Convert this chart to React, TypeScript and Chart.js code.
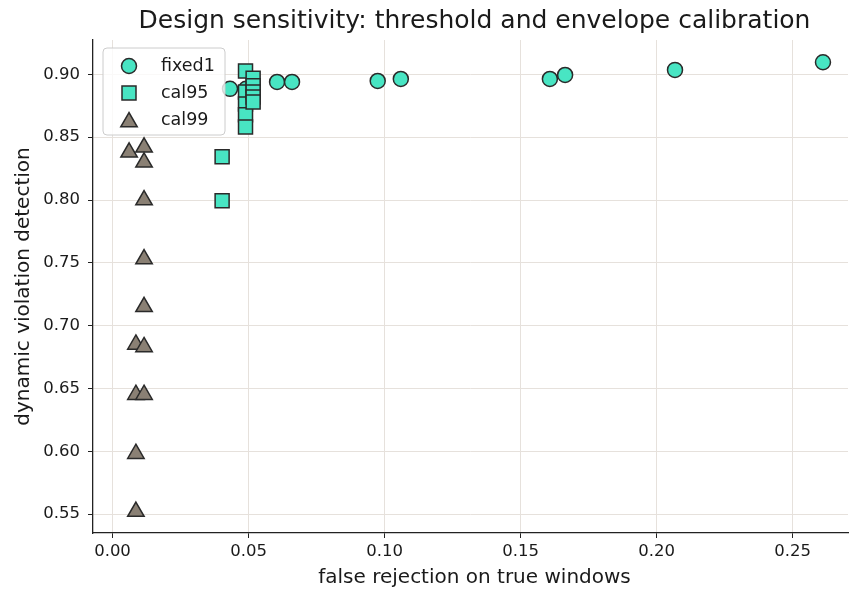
import React, { useEffect, useRef } from "react";
import { Chart, registerables } from "chart.js";

Chart.register(...registerables);

const TITLE = "Design sensitivity: threshold and envelope calibration";
const X_LABEL = "false rejection on true windows";
const Y_LABEL = "dynamic violation detection";

const xTicks = [0.0, 0.05, 0.1, 0.15, 0.2, 0.25];
const yTicks = [0.55, 0.6, 0.65, 0.7, 0.75, 0.8, 0.85, 0.9];

const fixed1X = [0.0432, 0.0491, 0.0605, 0.066, 0.0975, 0.106, 0.1608, 0.1664, 0.2068, 0.2612];
const fixed1Y = [0.8885, 0.8885, 0.894, 0.894, 0.8948, 0.8964, 0.8964, 0.8996, 0.9036, 0.9097];

const cal95X = [0.0403, 0.0403, 0.0489, 0.0489, 0.0489, 0.0489, 0.0489, 0.0517, 0.0517, 0.0517, 0.0517, 0.0517];
const cal95Y = [0.8344, 0.7994, 0.9028, 0.886, 0.8765, 0.8678, 0.8582, 0.897, 0.891, 0.886, 0.882, 0.878];

const cal99X = [0.0061, 0.0116, 0.0116, 0.0116, 0.0116, 0.0116, 0.0086, 0.0116, 0.0086, 0.0116, 0.0086, 0.0086];
const cal99Y = [0.838, 0.842, 0.830, 0.800, 0.753, 0.715, 0.685, 0.683, 0.645, 0.645, 0.598, 0.552];

const seriesNames = ["fixed1", "cal95", "cal99"];

const FONT = "'DejaVu Sans', sans-serif";
const TEAL = "#48e5c3";
const TAUPE = "#8a8074";
const EDGE = "#2a2a2a";

function pts(xs: number[], ys: number[]) {
  return xs.map((x, i) => ({ x, y: ys[i] }));
}

function drawMarker(ctx: CanvasRenderingContext2D, style: string, x: number, y: number, fill: string) {
  ctx.save();
  ctx.beginPath();
  if (style === "circle") {
    ctx.arc(x, y, 7.5, 0, Math.PI * 2);
  } else if (style === "rect") {
    ctx.rect(x - 7, y - 7, 14, 14);
  } else {
    const r = 9.5;
    ctx.moveTo(x, y - r);
    ctx.lineTo(x - r * Math.sin(Math.PI / 3), y + r / 2);
    ctx.lineTo(x + r * Math.sin(Math.PI / 3), y + r / 2);
    ctx.closePath();
  }
  ctx.fillStyle = fill;
  ctx.fill();
  ctx.lineWidth = 1.5;
  ctx.strokeStyle = EDGE;
  ctx.stroke();
  ctx.restore();
}

const decorPlugin = {
  id: "decor",
  afterDraw(chart: any) {
    const ctx: CanvasRenderingContext2D = chart.ctx;
    const a = chart.chartArea;
    const cx = (a.left + a.right) / 2 + 4;
    ctx.save();
    ctx.fillStyle = "#1a1a1a";
    ctx.textAlign = "center";
    ctx.textBaseline = "middle";
    ctx.font = `25px ${FONT}`;
    ctx.fillText(TITLE, cx, 21);
    ctx.font = `20px ${FONT}`;
    ctx.fillText(X_LABEL, cx, 578);
    ctx.save();
    ctx.translate(24, (a.top + a.bottom) / 2);
    ctx.rotate(-Math.PI / 2);
    ctx.fillText(Y_LABEL, 0, 0);
    ctx.restore();

    // legend
    const lx = 103, ly = 48, lw = 122, lh = 87;
    ctx.beginPath();
    ctx.roundRect(lx, ly, lw, lh, 4);
    ctx.fillStyle = "rgba(255,255,255,0.8)";
    ctx.fill();
    ctx.strokeStyle = "#cccccc";
    ctx.lineWidth = 1;
    ctx.stroke();
    const styles = ["circle", "rect", "triangle"];
    const fills = [TEAL, TEAL, TAUPE];
    seriesNames.forEach((name, i) => {
      const ry = 66 + i * 27;
      drawMarker(ctx, styles[i], 129, ry + (i === 2 ? 2 : 0), fills[i]);
      ctx.fillStyle = "#1a1a1a";
      ctx.textAlign = "left";
      ctx.textBaseline = "middle";
      ctx.font = `17.5px ${FONT}`;
      ctx.fillText(name, 161, ry);
    });
    ctx.restore();
  },
};

export default function App() {
  const ref = useRef<HTMLCanvasElement | null>(null);
  useEffect(() => {
    document.body.style.margin = "0";
    const canvas = ref.current!;
    const chart = new Chart(canvas, {
      type: "scatter",
      data: {
        datasets: [
          {
            label: seriesNames[0],
            data: pts(fixed1X, fixed1Y),
            pointStyle: "circle",
            pointRadius: 7.5,
            pointHoverRadius: 7.5,
            backgroundColor: TEAL,
            borderColor: EDGE,
            borderWidth: 1.5,
            order: 3,
          },
          {
            label: seriesNames[1],
            data: pts(cal95X, cal95Y),
            pointStyle: "rect",
            pointRadius: 9.9,
            pointHoverRadius: 9.9,
            backgroundColor: TEAL,
            borderColor: EDGE,
            borderWidth: 1.5,
            order: 2,
          },
          {
            label: seriesNames[2],
            data: pts(cal99X, cal99Y),
            pointStyle: "triangle",
            pointRadius: 9.5,
            pointHoverRadius: 9.5,
            backgroundColor: TAUPE,
            borderColor: EDGE,
            borderWidth: 1.5,
            order: 1,
          },
        ],
      },
      options: {
        responsive: false,
        animation: false,
        layout: { autoPadding: false, padding: { top: 40, right: 1, left: 0, bottom: 0 } },
        plugins: {
          legend: { display: false },
          title: { display: false },
          tooltip: { enabled: false },
        },
        scales: {
          x: {
            type: "linear",
            min: -0.00717,
            max: 0.2704,
            afterFit: (s: any) => {
              s.height = 60;
              s.paddingLeft = 0;
              s.paddingRight = 0;
            },
            afterBuildTicks: (s: any) => {
              s.ticks = xTicks.map((v) => ({ value: v }));
            },
            ticks: {
              font: { family: FONT, size: 16.5 },
              color: "#1a1a1a",
              padding: 4,
              maxRotation: 0,
              callback: (v: any) => Number(v).toFixed(2),
            },
            grid: { color: "#e6e1dc", lineWidth: 1, tickColor: "#222", tickLength: 5 },
            border: { display: true, color: "#222", width: 1.3 },
          },
          y: {
            type: "linear",
            min: 0.5349,
            max: 0.9274,
            afterFit: (s: any) => {
              s.width = 93;
              s.paddingTop = 0;
              s.paddingBottom = 0;
            },
            afterBuildTicks: (s: any) => {
              s.ticks = yTicks.map((v) => ({ value: v }));
            },
            ticks: {
              font: { family: FONT, size: 16.5 },
              color: "#1a1a1a",
              padding: 8,
              callback: (v: any) => Number(v).toFixed(2),
            },
            grid: { color: "#e6e1dc", lineWidth: 1, tickColor: "#222", tickLength: 5 },
            border: { display: true, color: "#222", width: 1.3 },
          },
        },
      },
      plugins: [decorPlugin],
    });
    return () => chart.destroy();
  }, []);
  return (
    <div style={{ position: "absolute", left: 0, top: 0, width: 849, height: 593 }}>
      <canvas ref={ref} width={849} height={593} style={{ width: 849, height: 593, display: "block" }} />
    </div>
  );
}
